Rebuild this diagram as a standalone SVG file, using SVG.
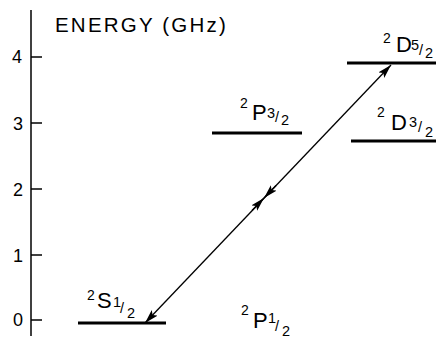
<svg xmlns="http://www.w3.org/2000/svg" width="436" height="339" viewBox="0 0 436 339">
<style>
text{font-family:"Liberation Sans",Arial,sans-serif;fill:#000}
.lbl{font-size:22px}
.sup{font-size:14px}
.frac{font-size:14.5px}
.tick{font-size:18px}
.level{stroke:#000;stroke-width:3;fill:none}
.ax{stroke:#000;stroke-width:1.5;fill:none}
.conn{stroke:#000;stroke-width:1.3;fill:none}
</style>
<defs>
<marker id="ah" viewBox="0 0 14 8" refX="14" refY="4" markerWidth="14" markerHeight="8" markerUnits="userSpaceOnUse" orient="auto-start-reverse">
<path d="M0,0 L14,4 L0,8 L3,4 z" fill="#000"/>
</marker>
</defs>
<rect width="436" height="339" fill="#fff"/>
<g id="axis">
<line class="ax" x1="31" y1="10" x2="31" y2="336"/>
<line class="ax" x1="31" y1="57" x2="42" y2="57"/>
<line class="ax" x1="31" y1="123" x2="42" y2="123"/>
<line class="ax" x1="31" y1="189" x2="42" y2="189"/>
<line class="ax" x1="31" y1="255" x2="42" y2="255"/>
<line class="ax" x1="31" y1="320" x2="42" y2="320"/>
<text class="tick" x="17" y="63" text-anchor="middle">4</text>
<text class="tick" x="18" y="130" text-anchor="middle">3</text>
<text class="tick" x="18" y="196" text-anchor="middle">2</text>
<text class="tick" x="18" y="262" text-anchor="middle">1</text>
<text class="tick" x="18" y="326" text-anchor="middle">0</text>
<text x="55" y="32" font-size="20.5" letter-spacing="2.2">ENERGY (GHz)</text>
</g>
<g id="S12">
<line class="level" x1="78" y1="323" x2="166" y2="323"/>
<text class="sup" x="87" y="300">2</text>
<text class="lbl" x="97" y="308">S</text>
<text class="frac" x="113" y="307">1</text>
<text class="frac" x="120" y="313">/</text>
<text class="frac" x="127" y="318">2</text>
</g>
<g id="P12">
<text class="sup" x="241" y="315">2</text>
<text class="lbl" x="253" y="328">P</text>
<text class="frac" x="268" y="323">1</text>
<text class="frac" x="275" y="331">/</text>
<text class="frac" x="282" y="336">2</text>
</g>
<g id="P32">
<line class="level" x1="212" y1="133" x2="302" y2="133"/>
<text class="sup" x="240" y="108">2</text>
<text class="lbl" x="252" y="120">P</text>
<text class="frac" x="267" y="118">3</text>
<text class="frac" x="275" y="122">/</text>
<text class="frac" x="281" y="125">2</text>
</g>
<g id="D52">
<line class="level" x1="347" y1="63" x2="436" y2="63"/>
<text class="sup" x="383" y="43">2</text>
<text class="lbl" x="396" y="52">D</text>
<text class="frac" x="411" y="50">5</text>
<text class="frac" x="419" y="55">/</text>
<text class="frac" x="425" y="58">2</text>
</g>
<g id="D32">
<line class="level" x1="351" y1="141" x2="436" y2="141"/>
<text class="sup" x="377" y="117">2</text>
<text class="lbl" x="391" y="130">D</text>
<text class="frac" x="409" y="127">3</text>
<text class="frac" x="418" y="132">/</text>
<text class="frac" x="425" y="137">2</text>
</g>
<g id="connectors">
<line class="conn" x1="145" y1="323" x2="391" y2="65" marker-start="url(#ah)" marker-end="url(#ah)"/>
<line class="conn" x1="252" y1="210.5" x2="264" y2="198" marker-end="url(#ah)"/>
<line class="conn" x1="276" y1="185.5" x2="264" y2="198" marker-end="url(#ah)"/>
</g>
</svg>
